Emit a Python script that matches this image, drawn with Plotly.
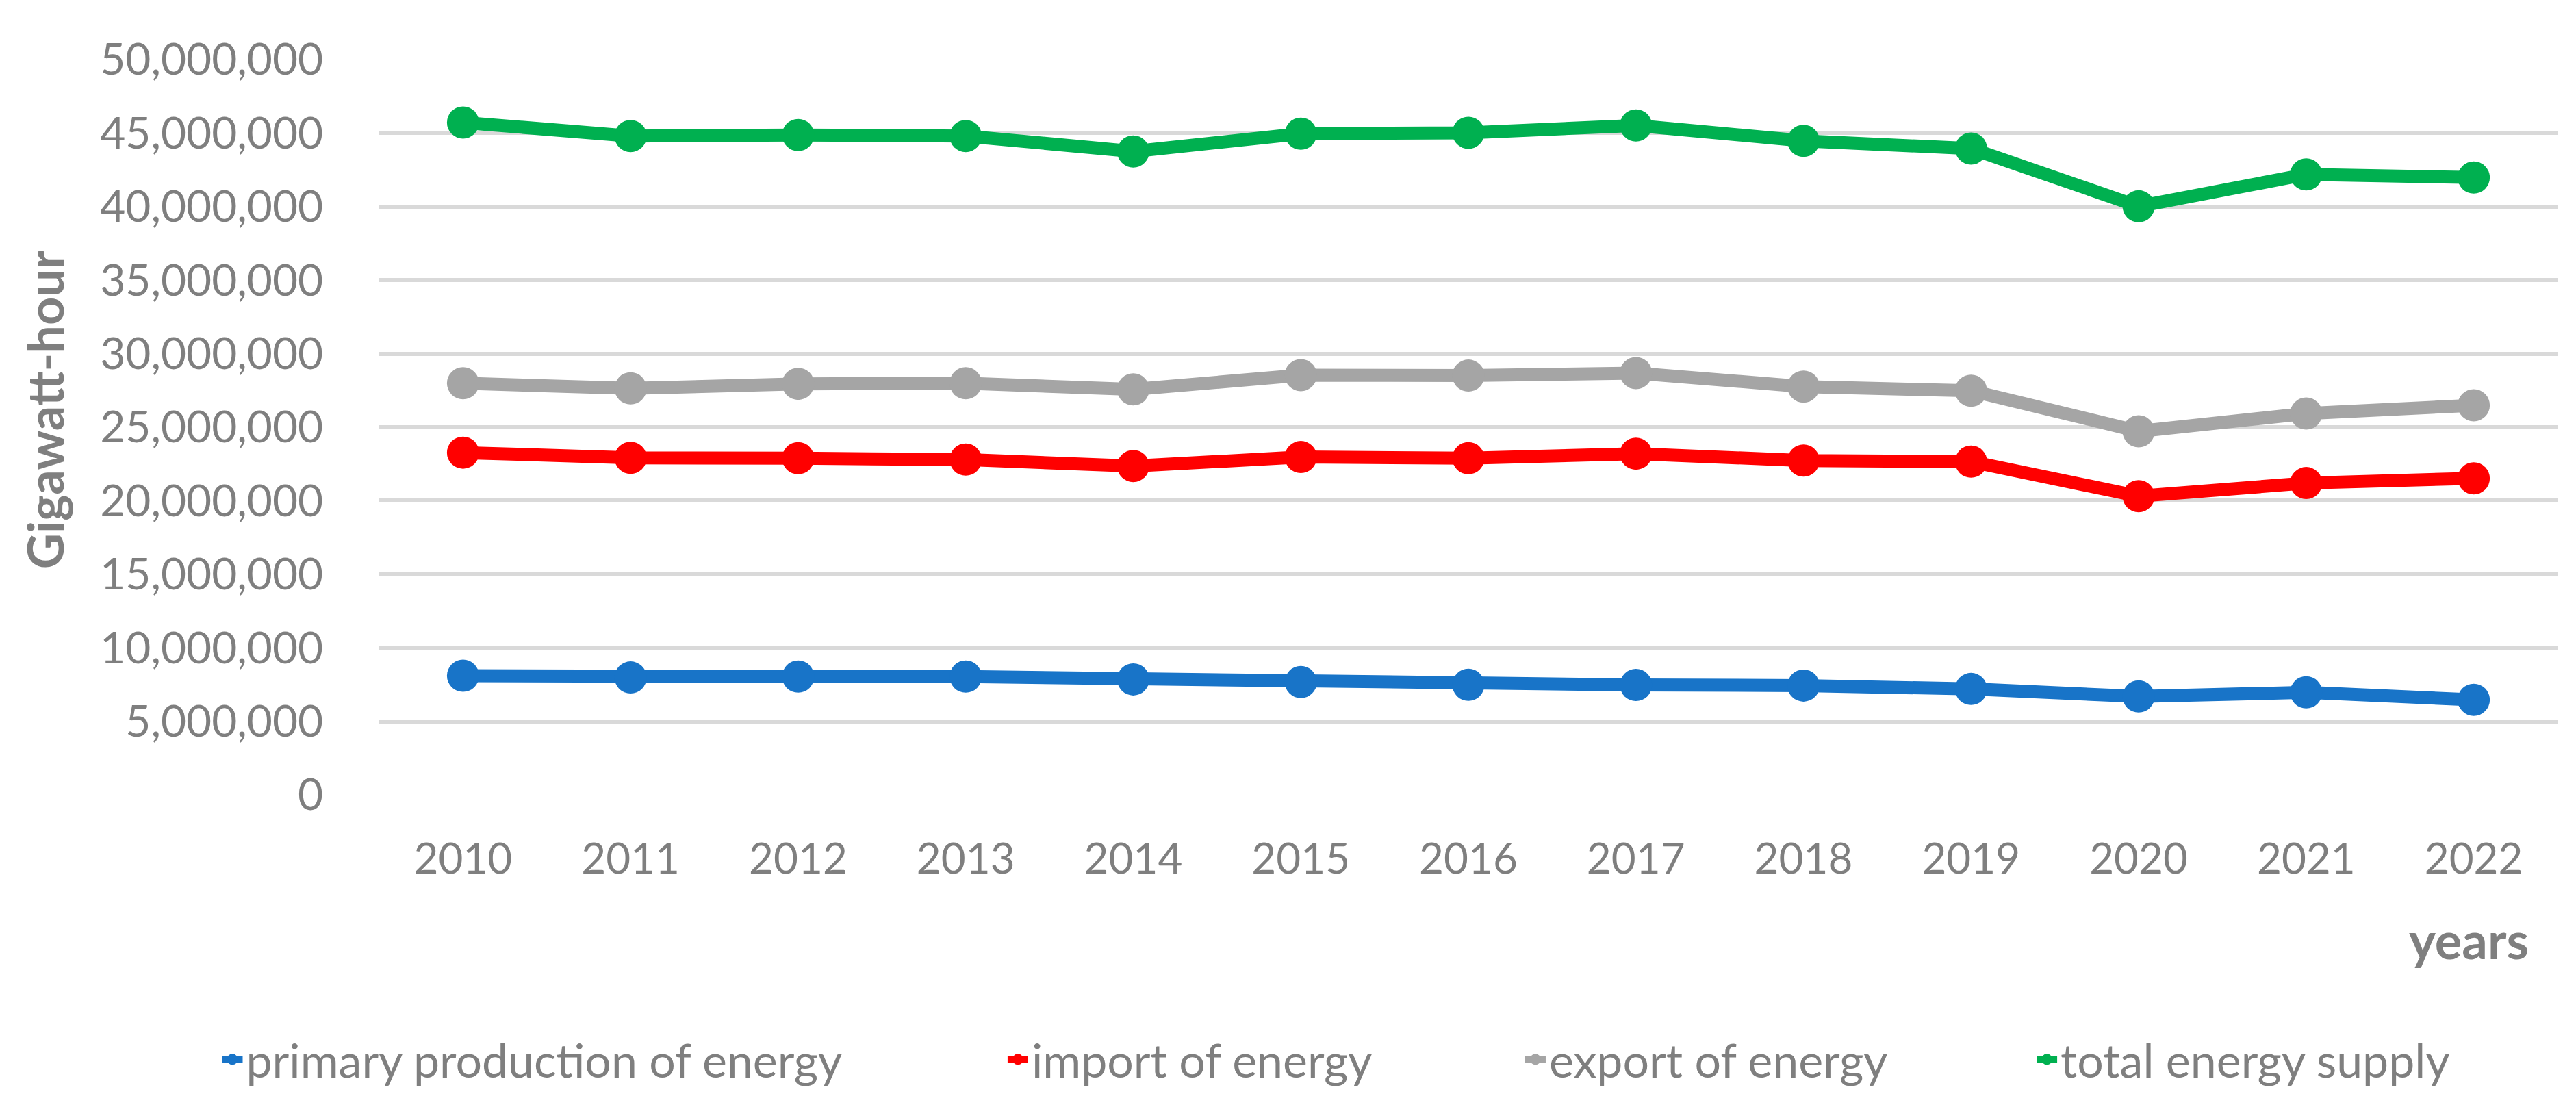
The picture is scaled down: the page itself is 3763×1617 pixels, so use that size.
import plotly.graph_objects as go

years = ['2010', '2011', '2012', '2013', '2014', '2015', '2016',
         '2017', '2018', '2019', '2020', '2021', '2022']

primary_production = [8100000, 7980000, 8040000, 8040000, 7850000, 7670000, 7480000,
                      7470000, 7430000, 7200000, 6690000, 6970000, 6460000]
import_energy = [23270000, 22920000, 22890000, 22800000, 22360000, 22970000, 22890000,
                 23200000, 22730000, 22660000, 20310000, 21200000, 21520000]
export_energy = [27990000, 27640000, 27950000, 27990000, 27570000, 28540000, 28510000,
                 28680000, 27760000, 27480000, 24720000, 25930000, 26490000]
total_supply = [45720000, 44800000, 44870000, 44800000, 43750000, 44960000, 45020000,
                45520000, 44470000, 43950000, 40020000, 42190000, 41980000]

series = [
    ('primary production of energy', primary_production, '#1874C8'),
    ('import of energy', import_energy, '#FF0000'),
    ('export of energy', export_energy, '#A5A5A5'),
    ('total energy supply', total_supply, '#00B050'),
]

FONT = 'Lato'
GREY = '#7F7F7F'

# one legend per series so every entry sits where the original has it
legend_ids = ['legend', 'legend2', 'legend3', 'legend4']
legend_x = [-0.0737, 0.2869, 0.5245, 0.7593]

fig = go.Figure()
for (name, values, color), legend_id in zip(series, legend_ids):
    fig.add_trace(go.Scatter(
        x=years,
        y=values,
        name=name,
        mode='lines+markers',
        line=dict(color=color, width=19),
        marker=dict(color=color, size=47),
        legend=legend_id,
    ))


def legend_style(x):
    return dict(
        orientation='h',
        x=x,
        xanchor='left',
        y=-0.36,
        yanchor='middle',
        font=dict(size=68, color=GREY, family=FONT),
        bgcolor='rgba(0,0,0,0)',
    )


fig.update_layout(
    width=3763,
    height=1617,
    margin=dict(l=546, r=35, t=79, b=464),
    paper_bgcolor='white',
    plot_bgcolor='white',
    font=dict(family=FONT, color=GREY, size=60),
    showlegend=True,
    legend=legend_style(legend_x[0]),
    legend2=legend_style(legend_x[1]),
    legend3=legend_style(legend_x[2]),
    legend4=legend_style(legend_x[3]),
)

fig.update_xaxes(
    type='category',
    range=[-0.5, 12.5],
    automargin=False,
    showgrid=False,
    showline=False,
    zeroline=False,
    ticks='outside',
    ticklen=40,
    tickcolor='rgba(0,0,0,0)',
    tickfont=dict(size=62, color=GREY),
)

fig.update_yaxes(
    range=[0, 50000000],
    dtick=5000000,
    tickformat=',d',
    automargin=False,
    showgrid=True,
    gridcolor='#D9D9D9',
    gridwidth=6,
    zeroline=False,
    showline=False,
    ticks='outside',
    ticklen=68,
    tickcolor='rgba(0,0,0,0)',
    tickfont=dict(size=64, color=GREY),
)

# axis titles placed where the original puts them
fig.add_annotation(
    text='<b>Gigawatt-hour</b>',
    xref='paper', yref='paper',
    x=-0.1537, y=0.524,
    xanchor='center', yanchor='middle',
    textangle=-90,
    showarrow=False,
    font=dict(size=72, color=GREY, family=FONT),
)
fig.add_annotation(
    text='<b>years</b>',
    xref='paper', yref='paper',
    x=0.9874, y=-0.197,
    xanchor='right', yanchor='middle',
    showarrow=False,
    font=dict(size=74, color=GREY, family=FONT),
)

fig.write_html('out.html')
